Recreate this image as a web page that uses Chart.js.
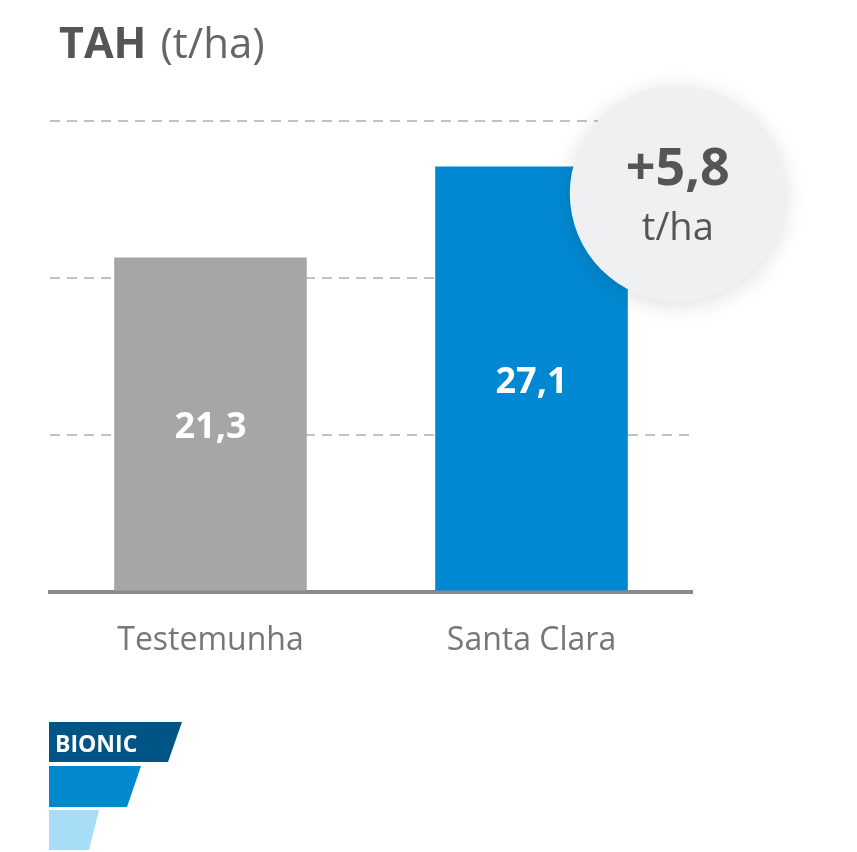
<!DOCTYPE html>
<html>
<head>
<meta charset="utf-8">
<script src="https://cdn.jsdelivr.net/npm/chart.js@4/dist/chart.umd.min.js"></script>
<style>
  html, body { margin: 0; padding: 0; background: #ffffff; }
  canvas { display: block; }
</style>
</head>
<body>
<canvas id="c" width="857" height="852"></canvas>
<script>
const categories = ['Testemunha', 'Santa Clara'];
const values = [21.3, 27.1];
const barColors = ['#a6a6a6', '#0089d2'];
const yTicks = [0, 10, 20, 30];
const titleBold = 'TAH';
const titleRegular = '(t/ha)';
const unitLabel = 't/ha';
const logoText = 'BIONIC';

const FONT = '"Open Sans", "Lato", sans-serif';
const fmt = v => v.toFixed(1).replace('.', ',');

const overlayPlugin = {
  id: 'overlay',
  afterDatasetsDraw(chart) {
    const ctx = chart.ctx;
    const meta = chart.getDatasetMeta(0);
    ctx.save();
    ctx.fillStyle = '#ffffff';
    ctx.font = 'bold 36px ' + FONT;
    ctx.textAlign = 'center';
    ctx.textBaseline = 'alphabetic';
    meta.data.forEach((bar, i) => {
      const mid = (bar.y + bar.base) / 2;
      ctx.fillText(fmt(values[i]), bar.x, mid + 14);
    });
    ctx.restore();
  },
  afterDraw(chart) {
    const ctx = chart.ctx;
    const meta = chart.getDatasetMeta(0);
    const last = meta.data[meta.data.length - 1];
    const cx = last.x + last.width / 2 + 50;
    const cy = last.y + 27;
    const r = 108;
    ctx.save();
    ctx.shadowColor = 'rgba(0,0,0,0.13)';
    ctx.shadowBlur = 22;
    ctx.shadowOffsetX = 0;
    ctx.shadowOffsetY = 4;
    ctx.beginPath();
    ctx.arc(cx, cy, r, 0, Math.PI * 2);
    ctx.fillStyle = '#eef0f1';
    ctx.fill();
    ctx.restore();

    const diff = values[values.length - 1] - values[0];
    ctx.save();
    ctx.textAlign = 'center';
    ctx.textBaseline = 'alphabetic';
    ctx.fillStyle = '#555555';
    ctx.font = 'bold 52px ' + FONT;
    ctx.fillText('+' + fmt(diff), cx, cy - 8);
    ctx.font = '38px ' + FONT;
    ctx.fillText(unitLabel, cx, cy + 47);
    ctx.restore();

    // title
    ctx.save();
    ctx.textBaseline = 'alphabetic';
    ctx.textAlign = 'left';
    ctx.fillStyle = '#555555';
    ctx.font = 'bold 43px ' + FONT;
    ctx.fillText(titleBold, 59, 58);
    const w = ctx.measureText(titleBold).width;
    ctx.fillStyle = '#666666';
    ctx.font = '42px ' + FONT;
    ctx.fillText(titleRegular, 59 + w + 14, 58);
    ctx.restore();

    // logo
    ctx.save();
    const poly = (pts, color) => {
      ctx.beginPath();
      ctx.moveTo(pts[0][0], pts[0][1]);
      for (let k = 1; k < pts.length; k++) ctx.lineTo(pts[k][0], pts[k][1]);
      ctx.closePath();
      ctx.fillStyle = color;
      ctx.fill();
    };
    poly([[49, 722], [182, 722], [168, 762], [49, 762]], '#005586');
    poly([[49, 766], [141, 766], [127, 807], [49, 807]], '#0288cf');
    poly([[49, 810], [99, 810], [89, 850], [49, 850]], '#a7ddf6');
    ctx.fillStyle = '#ffffff';
    ctx.font = 'bold 23px ' + FONT;
    ctx.textAlign = 'left';
    ctx.textBaseline = 'alphabetic';
    ctx.fillText(logoText, 55, 752);
    ctx.restore();
  }
};

new Chart(document.getElementById('c'), {
  type: 'bar',
  data: {
    labels: categories,
    datasets: [{
      data: values,
      backgroundColor: barColors,
      borderWidth: 0,
      categoryPercentage: 1.0,
      barPercentage: 0.6
    }]
  },
  options: {
    responsive: false,
    animation: false,
    devicePixelRatio: 1,
    layout: { padding: { left: 50, right: 165, top: 121, bottom: 162 } },
    plugins: { legend: { display: false }, tooltip: { enabled: false }, title: { display: false } },
    scales: {
      x: {
        z: 1,
        grid: { display: false, drawTicks: false },
        border: { display: true, color: '#8a8a8a', width: 4 },
        ticks: { color: '#777777', font: { family: FONT, size: 32 }, padding: 30 }
      },
      y: {
        min: yTicks[0],
        max: yTicks[yTicks.length - 1],
        afterBuildTicks: axis => { axis.ticks = yTicks.map(v => ({ value: v })); },
        ticks: { display: false },
        grid: { color: '#c2c2c2', lineWidth: 2, drawTicks: false },
        border: { display: false, dash: [10, 7] }
      }
    }
  },
  plugins: [overlayPlugin]
});
</script>
</body>
</html>
